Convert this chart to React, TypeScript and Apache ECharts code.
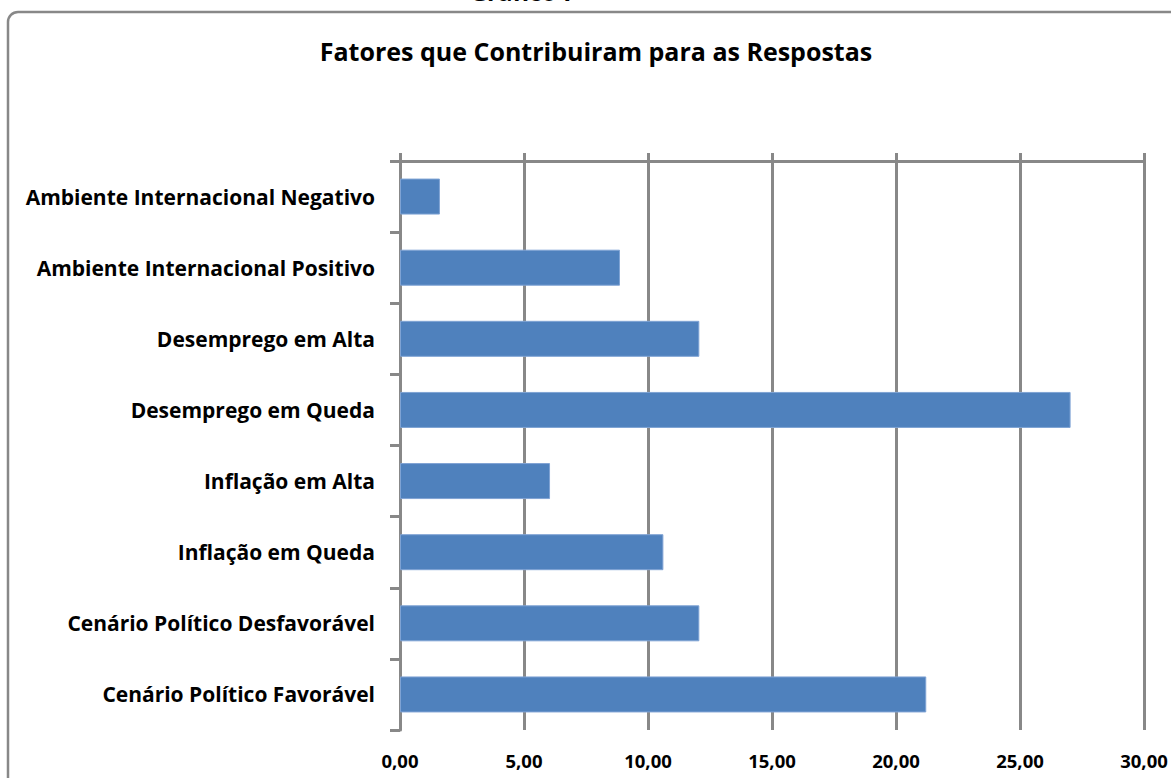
import React, { useEffect, useRef } from "react";
import * as echarts from "echarts";

const categories = [
  "Ambiente Internacional Negativo",
  "Ambiente Internacional Positivo",
  "Desemprego em Alta",
  "Desemprego em Queda",
  "Inflação em Alta",
  "Inflação em Queda",
  "Cenário Político Desfavorável",
  "Cenário Político Favorável",
];
const values = [1.61, 8.87, 12.07, 27.04, 6.05, 10.62, 12.07, 21.22];
const axisMin = 0;
const axisMax = 30;
const axisStep = 5;
const chartTitle = "Fatores que Contribuiram para as Respostas";
const headerText = "Gráfico 7";

const GRAY = "#888888";
const FONT = "'Open Sans', Lato, sans-serif";

export default function App() {
  const ref = useRef<HTMLDivElement>(null);
  useEffect(() => {
    if (!ref.current) return;
    const chart = echarts.init(ref.current, undefined, { renderer: "svg" });
    const fmt = (v: number) => v.toFixed(2).replace(".", ",");
    chart.setOption({
      animation: false,
      backgroundColor: "#ffffff",
      title: {
        text: chartTitle,
        left: 591,
        top: 33,
        textAlign: "center",
        textStyle: { fontFamily: FONT, fontWeight: "bold", fontSize: 25, color: "#000" },
      },
      graphic: [
        {
          type: "rect",
          shape: { x: 8, y: 12, width: 1300, height: 900, r: 10 },
          style: { fill: "none", stroke: GRAY, lineWidth: 2.5 },
          silent: true,
        },
        {
          type: "text",
          x: 523,
          y: 3,
          style: {
            text: headerText,
            font: "bold 24px 'Open Sans', sans-serif",
            fill: "#000",
            textAlign: "center",
            textVerticalAlign: "bottom",
          },
        },
      ],
      grid: { left: 400, right: 27, top: 161, bottom: 48, containLabel: false },
      xAxis: [
        {
          type: "value",
          position: "top",
          min: axisMin,
          max: axisMax,
          interval: axisStep,
          axisLine: { show: true, lineStyle: { color: GRAY, width: 3 } },
          axisTick: { show: true, inside: false, length: 8, lineStyle: { color: GRAY, width: 3 } },
          splitLine: { show: true, lineStyle: { color: GRAY, width: 3 } },
          axisLabel: { show: false },
        },
        {
          type: "value",
          position: "bottom",
          min: axisMin,
          max: axisMax,
          interval: axisStep,
          axisLine: { show: false },
          axisTick: { show: false },
          splitLine: { show: false },
          axisLabel: {
            show: true,
            formatter: fmt,
            margin: 21,
            fontFamily: FONT,
            fontWeight: "bold",
            fontSize: 18.5,
            color: "#000",
          },
        },
      ],
      yAxis: {
        type: "category",
        data: categories,
        inverse: true,
        axisLine: { show: true, lineStyle: { color: GRAY, width: 3 } },
        axisTick: { show: true, length: 10, lineStyle: { color: GRAY, width: 3 } },
        axisLabel: {
          margin: 25,
          fontFamily: FONT,
          fontWeight: "bold",
          fontSize: 21,
          color: "#000",
        },
        splitLine: { show: false },
      },
      series: [
        {
          type: "bar",
          xAxisIndex: 0,
          data: values,
          barWidth: 36,
          itemStyle: { color: "#4F81BD", borderColor: "#7fa3d4", borderWidth: 1 },
        },
      ],
    });
    return () => chart.dispose();
  }, []);
  return (
    <div
      ref={ref}
      style={{ position: "fixed", left: 0, top: 0, width: 1171, height: 778, background: "#fff" }}
    />
  );
}
